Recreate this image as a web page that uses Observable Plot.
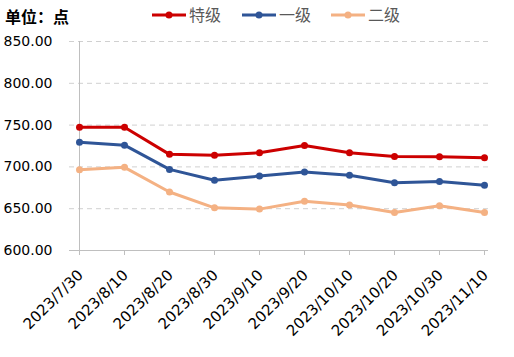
<!DOCTYPE html>
<html><head><meta charset="utf-8">
<script src="https://cdn.jsdelivr.net/npm/d3@7"></script>
<script src="https://cdn.jsdelivr.net/npm/@observablehq/plot@0.6"></script>
<style>
html,body{margin:0;padding:0;background:#fff;}
#wrap{position:relative;width:514px;height:357px;font-family:"DejaVu Sans",sans-serif;}
#title{position:absolute;left:5px;top:6px;font-size:16px;font-weight:bold;color:#000;font-family:"Noto Sans CJK SC",sans-serif;line-height:20px;}
#legend{position:absolute;left:0;top:0;width:514px;height:30px;}
</style></head>
<body><div id="wrap"><div id="title">单位：点</div><svg id="legend" width="514" height="30"></svg><div id="chart"></div></div>
<script>
const dates = ["2023/7/30","2023/8/10","2023/8/20","2023/8/30","2023/9/10","2023/9/20","2023/10/10","2023/10/20","2023/10/30","2023/11/10"];
const seriesNames = ["特级","一级","二级"];
const seriesColors = ["#CC0000","#2F5597","#F4B183"];
const special = [747.5,747.5,715,714,717,725.5,717,712.5,712,711];
const first = [729.5,726,697,684,689,694,690,681,682.5,678];
const second = [696.5,699.5,670,651,649.5,659,654.5,645.5,653.5,645.5];
const yTicks = [600,650,700,750,800,850];

const data = [];
[special, first, second].forEach((arr, si) => arr.forEach((v, i) => data.push({date: dates[i], value: v, series: seriesNames[si]})));

const plot = Plot.plot({
  width: 514, height: 357,
  marginLeft: 75, marginRight: 26, marginTop: 41, marginBottom: 107,
  style: {fontFamily: '"DejaVu Sans", sans-serif', fontSize: "14px", color: "#000", background: "transparent"},
  x: {type: "point", domain: dates, padding: 0, label: null},
  y: {domain: [600, 850], label: null},
  color: {domain: seriesNames, range: seriesColors},
  marks: [
    Plot.ruleY(yTicks.filter(d => d > 600), {stroke: "#d0d0d0", strokeDasharray: "5,4", strokeWidth: 1, insetLeft: -6}),
    Plot.ruleY([600], {stroke: "#bfbfbf", strokeWidth: 1, insetLeft: -6}),
    Plot.ruleX([dates[0]], {y1: 600, y2: 850, stroke: "#bfbfbf", strokeWidth: 1}),
    Plot.axisY({ticks: yTicks, tickFormat: d => d.toFixed(2), tickSize: 0, tickPadding: 23, fontSize: 14, fill: "#000"}),
    Plot.axisX({tickSize: 5, stroke: "#bfbfbf", tickFormat: () => ""}),
    Plot.axisX({tickRotate: -45, tickSize: 0, tickPadding: 22, dx: 1, fontSize: 15, fill: "#000"}),
    Plot.line(data, {x: "date", y: "value", z: "series", stroke: "series", strokeWidth: 3}),
    Plot.dot(data, {x: "date", y: "value", fill: "series", r: 3.5})
  ]
});
document.getElementById("chart").appendChild(plot);

// legend
const leg = d3.select("#legend");
const lx = [152, 242, 331];
seriesNames.forEach((n, i) => {
  const g = leg.append("g").attr("transform", `translate(${lx[i]},15)`);
  g.append("line").attr("x1", 0).attr("x2", 34).attr("stroke", seriesColors[i]).attr("stroke-width", 3);
  g.append("circle").attr("cx", 17).attr("r", 3.5).attr("fill", seriesColors[i]);
  g.append("text").attr("x", 37).attr("y", 6).attr("font-size", 16).attr("fill", "#595959")
    .attr("font-family", '"Noto Sans CJK SC", sans-serif').text(n);
});
</script></body></html>
